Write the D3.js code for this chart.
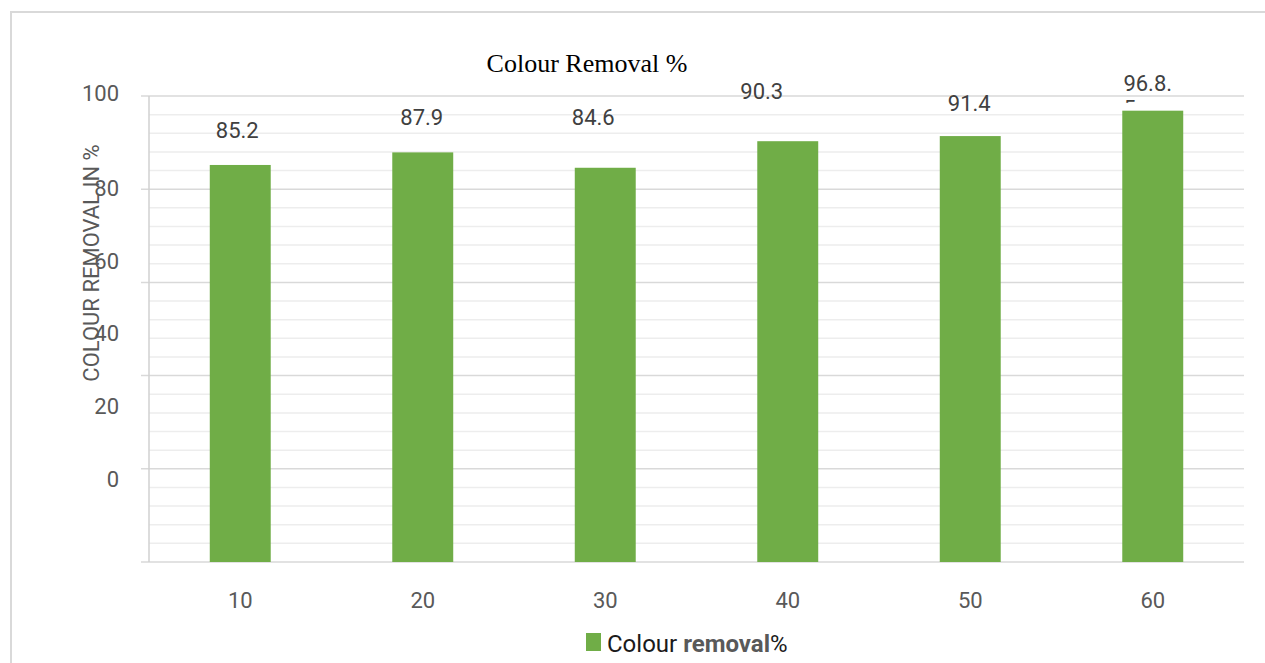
<!DOCTYPE html>
<html>
<head>
<meta charset="utf-8">
<script src="https://cdn.jsdelivr.net/npm/d3@7"></script>
<style>
  html, body { margin: 0; padding: 0; background: #fff; }
  svg { display: block; }
</style>
</head>
<body>
<svg id="chart" width="1265" height="663"></svg>
<script>
// Contact time categories and colour removal results
const categories = ["10", "20", "30", "40", "50", "60"];
const removal = [85.2, 87.9, 84.6, 90.3, 91.4, 96.85];
const yTicks = [0, 20, 40, 60, 80, 100];
const seriesName = "Colour removal%";

// Layout of the value labels (offsets relative to each bar)
const labelDx = [-3, -1, -12, -26, -1, -5];
const labelGap = [27, 27, 43, 42, 25, 20];

const svg = d3.select("#chart");
const W = 1265, H = 663;
const plotLeft = 149, plotRight = 1244, plotTop = 96, plotBottom = 562;

const sans = "Roboto, 'Open Sans', sans-serif";
const green = "#70ad47";

// outer frame
svg.append("rect")
  .attr("x", 11).attr("y", 12)
  .attr("width", W).attr("height", H)
  .attr("fill", "none").attr("stroke", "#d9d9d9").attr("stroke-width", 2);

const x = d3.scaleBand().domain(categories).range([plotLeft, plotRight])
  .paddingInner(0.666).paddingOuter(0.333);
const y = d3.scaleLinear().domain([0, 100]).range([plotBottom, plotTop]);
// tick label placement along the value axis
const yLab = d3.scaleLinear().domain([0, 80, 100]).range([479, 188, 93]);

// minor gridlines
const minor = d3.range(0, 100, 4).filter(v => v % 20 !== 0);
svg.append("g").selectAll("line").data(minor).join("line")
  .attr("x1", plotLeft).attr("x2", plotRight)
  .attr("y1", d => y(d)).attr("y2", d => y(d))
  .attr("stroke", "#ededed").attr("stroke-width", 1.5);

// major gridlines with tick marks
svg.append("g").selectAll("line").data(yTicks).join("line")
  .attr("x1", plotLeft - 8).attr("x2", plotRight)
  .attr("y1", d => y(d)).attr("y2", d => y(d))
  .attr("stroke", "#d9d9d9").attr("stroke-width", 1.5);

// value axis line
svg.append("line")
  .attr("x1", plotLeft).attr("x2", plotLeft)
  .attr("y1", y(100)).attr("y2", y(0))
  .attr("stroke", "#d0d0d0").attr("stroke-width", 1.5);

// bars
svg.append("g").selectAll("rect").data(removal).join("rect")
  .attr("x", (d, i) => x(categories[i]))
  .attr("width", x.bandwidth())
  .attr("y", d => y(d))
  .attr("height", d => y(0) - y(d))
  .attr("fill", green);

// value labels (long values wrap onto a clipped second line)
const defs = svg.append("defs");
removal.forEach((v, i) => {
  const cx = x(categories[i]) + x.bandwidth() / 2 + labelDx[i];
  const base = y(v) - labelGap[i];
  const s = String(v);
  const g = svg.append("g");
  if (s.length <= 4) {
    g.append("text")
      .attr("x", cx).attr("y", base)
      .attr("text-anchor", "middle")
      .attr("font-family", sans).attr("font-size", 22)
      .attr("fill", "#404040").text(s);
  } else {
    const id = "clip" + i;
    defs.append("clipPath").attr("id", id).append("rect")
      .attr("x", cx - 40).attr("y", base - 30).attr("width", 80).attr("height", 42);
    const t = g.append("text")
      .attr("clip-path", `url(#${id})`)
      .attr("x", cx).attr("y", base)
      .attr("text-anchor", "middle")
      .attr("font-family", sans).attr("font-size", 22)
      .attr("fill", "#404040").text(s.slice(0, 4) + ".");
    const w = t.node().getComputedTextLength();
    g.append("text")
      .attr("clip-path", `url(#${id})`)
      .attr("x", cx - w / 2).attr("y", base + 25)
      .attr("font-family", sans).attr("font-size", 22)
      .attr("fill", "#404040").text(s.slice(4));
  }
});

// value axis labels
svg.append("g").selectAll("text").data(yTicks).join("text")
  .attr("x", 119).attr("y", d => yLab(d))
  .attr("dy", "0.36em")
  .attr("text-anchor", "end")
  .attr("font-family", sans).attr("font-size", 22)
  .attr("fill", "#595959").text(d => d);

// category labels
svg.append("g").selectAll("text").data(categories).join("text")
  .attr("x", d => x(d) + x.bandwidth() / 2).attr("y", 608)
  .attr("text-anchor", "middle")
  .attr("font-family", sans).attr("font-size", 22)
  .attr("fill", "#595959").text(d => d);

// title
svg.append("text")
  .attr("x", 587).attr("y", 72)
  .attr("text-anchor", "middle")
  .attr("font-family", "'Liberation Serif', 'Times New Roman', serif")
  .attr("font-size", 26).attr("fill", "#000")
  .text("Colour Removal %");

// value axis title
svg.append("text")
  .attr("transform", "translate(99,263) rotate(-90)")
  .attr("text-anchor", "middle")
  .attr("font-family", sans).attr("font-size", 22)
  .attr("fill", "#595959")
  .text("COLOUR REMOVAL IN %");

// legend
svg.append("rect")
  .attr("x", 586).attr("y", 633).attr("width", 15).attr("height", 18)
  .attr("fill", green);
const lt = svg.append("text")
  .attr("x", 607).attr("y", 652)
  .attr("font-family", sans).attr("font-size", 24)
  .attr("fill", "#1a1a1a");
const parts = seriesName.match(/^(\S+)\s(\S+?)(%)$/);
lt.append("tspan").text(parts[1] + " ");
lt.append("tspan").attr("font-weight", "bold").attr("fill", "#595959").text(parts[2]);
lt.append("tspan").text(parts[3]);
</script>
</body>
</html>
